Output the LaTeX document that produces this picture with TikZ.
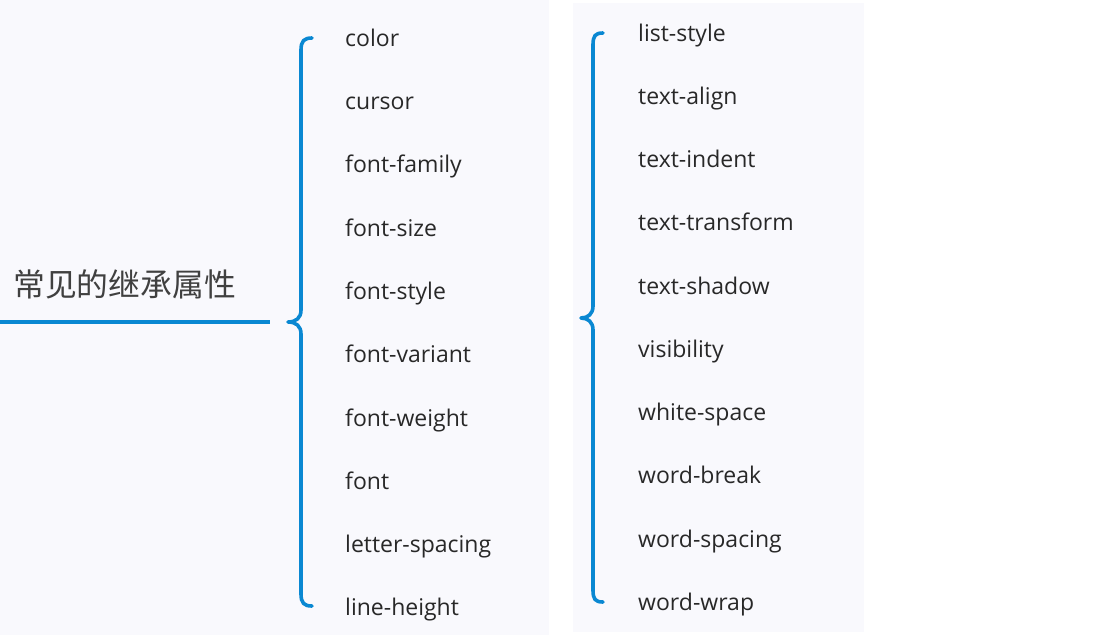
\documentclass[tikz,border=0pt]{standalone}
\usepackage{fontspec}
\setmainfont{Open Sans}
\newfontfamily\cjk{Noto Sans CJK SC}
\definecolor{brace}{RGB}{10,136,210}
\definecolor{panel}{RGB}{249,249,253}
\definecolor{txt}{RGB}{40,40,40}
\begin{document}
\begin{tikzpicture}[x=1pt,y=-1pt,
  item/.style={anchor=base west,inner sep=0pt,text=txt,font=\fontsize{23}{26}\selectfont},
  bline/.style={draw=brace,line width=3.6pt,line cap=round,line join=round}]
\useasboundingbox (0,0) rectangle (1103,635);
\fill[white] (0,0) rectangle (1103,635);
\fill[panel] (0,0) rectangle (549,635);
\fill[panel] (573,3) rectangle (864,632);
% title
\node[anchor=west,inner sep=0pt,text={rgb,255:red,64;green,64;blue,64},font=\cjk\fontsize{31.8}{36}\selectfont] (title) at (13,284) {常见的继承属性};
\coordinate (ls) at (0,322);
\coordinate (le) at (270,322);
\draw[draw=brace,line width=4pt] (ls) -- (le);
% left brace
\coordinate (b1t) at (312,38);
\coordinate (b1m) at (288,322);
\coordinate (b1b) at (312,606);
\draw[bline] (b1t) .. controls (304,38) and (301,41) .. (301,50) -- (301,310)
  .. controls (301,318) and (296,322) .. (b1m)
  .. controls (296,322) and (301,326) .. (301,334) -- (301,594)
  .. controls (301,603) and (304,606) .. (b1b);
% right brace
\coordinate (b2t) at (603,33);
\coordinate (b2m) at (581,318);
\coordinate (b2b) at (603,602);
\draw[bline] (b2t) .. controls (595,33) and (593,36) .. (593,45) -- (593,306)
  .. controls (593,314) and (588,318) .. (b2m)
  .. controls (588,318) and (593,322) .. (593,330) -- (593,590)
  .. controls (593,599) and (595,602) .. (b2b);
% left items (base line = row centre + 8)
\node[item] (a1) at (345,46) {color};
\node[item] (a2) at (345,109) {cursor};
\node[item] (a3) at (345,172) {font-family};
\node[item] (a4) at (345,236) {font-size};
\node[item] (a5) at (345,299) {font-style};
\node[item] (a6) at (345,362) {font-variant};
\node[item] (a7) at (345,426) {font-weight};
\node[item] (a8) at (345,489) {font};
\node[item] (a9) at (345,552) {letter-spacing};
\node[item] (a10) at (345,615) {line-height};
% right items
\node[item] (c1) at (638,41) {list-style};
\node[item] (c2) at (638,104) {text-align};
\node[item] (c3) at (638,167) {text-indent};
\node[item] (c4) at (638,230) {text-transform};
\node[item] (c5) at (638,294) {text-shadow};
\node[item] (c6) at (638,357) {visibility};
\node[item] (c7) at (638,420) {white-space};
\node[item] (c8) at (638,483) {word-break};
\node[item] (c9) at (638,547) {word-spacing};
\node[item] (c10) at (638,610) {word-wrap};
\end{tikzpicture}
\end{document}
